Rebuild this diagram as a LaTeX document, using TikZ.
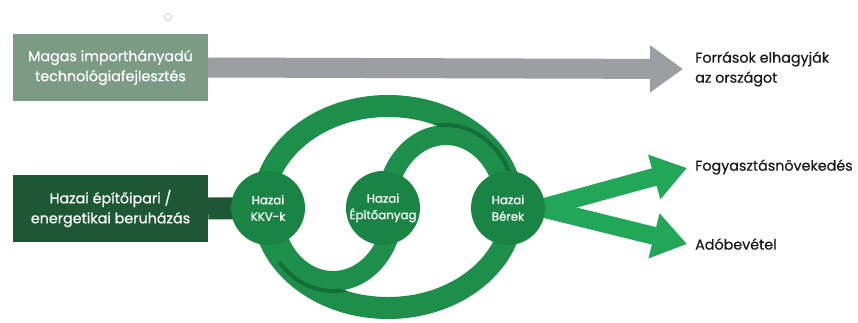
\documentclass[tikz,border=0pt]{standalone}
\usepackage{fontspec}
\setmainfont{Poppins}[FakeBold=0.6]
\usetikzlibrary{arrows.meta,backgrounds}
\definecolor{magasfill}{HTML}{7B9B85}
\definecolor{hazaifill}{HTML}{1E5734}
\definecolor{greyarr}{HTML}{9C9EA1}
\definecolor{ringgreen}{HTML}{1E8E4B}
\definecolor{circgreen}{HTML}{1A8444}
\definecolor{outgreen}{HTML}{22A657}
\definecolor{shadegreen}{HTML}{0E5A2C}
\definecolor{txtdark}{HTML}{1A1A1A}
\begin{document}
\begin{tikzpicture}[x=1pt,y=-1pt,
  boxnode/.style={rectangle, text=white, font=\fontsize{14.3}{20}\selectfont, align=center,
    minimum width=195pt, minimum height=67pt, inner sep=0pt},
  hub/.style={circle, fill=circgreen, minimum size=74pt, inner sep=0pt},
  hubtext/.style={text=white, align=center, font=\fontsize{11.8}{16.5}\selectfont, inner sep=0pt},
  outtext/.style={anchor=west, align=left, font=\fontsize{14.3}{20}\selectfont, text=txtdark, inner sep=0pt},
  ringline/.style={draw=ringgreen, line width=22pt},
  sline/.style={draw=ringgreen, line width=20pt},
  shadeline/.style={draw=shadegreen, line width=4pt, opacity=0.6},
  greyarrow/.style={draw=greyarr, line width=20pt, -{Triangle[length=33pt,width=45pt]}},
  outarrow/.style={draw=outgreen, line width=18pt, -{Triangle[length=34pt,width=44pt]}},
  feedbar/.style={draw=hazaifill, line width=22pt}
]
\useasboundingbox (0,0) rectangle (858,322);
\draw[draw=black!20, line width=0.8pt] (168,17) circle (3.5);

% boxes
\node[boxnode, fill=magasfill] (magas) at (110.5,67.5) {Magas importhányadú\\technológiafejlesztés};
\node[boxnode, fill=hazaifill] (hazai) at (110.5,208.5) {Hazai építőipari /\\energetikai beruházás};

% hubs
\node[hub] (kkv) at (268,208) {};
\node[hub] (epit) at (383,208) {};
\node[hub] (berek) at (508,208) {};
\node[hubtext] (kkvt) at (kkv) {Hazai\\KKV-k};
\node[hubtext] (epitt) at (epit) {Hazai\\Építőanyag};
\node[hubtext] (berekt) at (berek) {Hazai\\Bérek};

% outcome texts
\node[outtext] (forras) at (695,69) {Források elhagyják\\az országot};
\node[outtext] (fogy) at (695,167) {Fogyasztásnövekedés};
\node[outtext] (ado) at (695,244) {Adóbevétel};

\begin{pgfonlayer}{background}
  \fill[white] (0,0) rectangle (858,322);
  % big loop
  \draw[ringline] (388,207) ellipse [x radius=125, y radius=101];
  % S curve: KKV -> Építőanyag (below), Építőanyag -> Bérek (above)
  \draw[sline] ([xshift=5pt,yshift=-2pt]kkv.center) arc[start angle=180, end angle=0, x radius=60, y radius=71];
  \draw[sline] ([xshift=3pt]epit.center) arc[start angle=180, end angle=360, x radius=60, y radius=73];
  % shading where the S curve lies over the loop
  \begin{scope}
    \clip (524,207) arc[start angle=0, end angle=360, x radius=136, y radius=112]
          (502,207) arc[start angle=0, end angle=-360, x radius=114, y radius=90];
    \draw[shadeline] ([xshift=11.4pt,yshift=-54.1pt]kkv.center) arc[start angle=140, end angle=0, x radius=70, y radius=81];
    \draw[shadeline] ([xshift=-7pt]epit.center) arc[start angle=180, end angle=360, x radius=70, y radius=83];
  \end{scope}
  % feed bar
  \draw[feedbar] (hazai.east) -- (kkv.center);
  % arrows
  \draw[greyarrow] (magas.east) -- ([xshift=-12pt]forras.west);
  \draw[outarrow] ([xshift=33pt]berek.center) -- ([xshift=-8pt,yshift=-1pt]fogy.west);
  \draw[outarrow] ([xshift=33pt]berek.center) -- ([xshift=-8pt]ado.west);
\end{pgfonlayer}
\end{tikzpicture}
\end{document}
